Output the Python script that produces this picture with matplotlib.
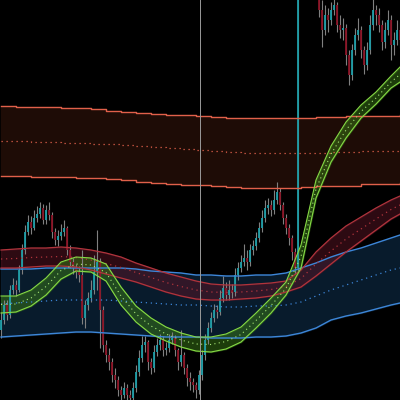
import numpy as np
import matplotlib
matplotlib.use("Agg")
import matplotlib.pyplot as plt

# candles (price units), open = previous close
first_open = 70
closes = [80, 95, 85, 110, 115, 110, 130, 150, 168, 178,
          172, 182, 186, 192, 180, 190, 185, 168, 160, 164,
          168, 172, 150, 138, 132, 128, 125, 82, 95, 102,
          110, 128, 138, 90, 55, 45, 38, 25, 20, 10,
          5, 12, 5, 2, 12, 28, 42, 55, 58, 38,
          32, 48, 55, 60, 50, 52, 60, 62, 50, 38,
          45, 32, 22, 18, 15, 10, 25, 45, 60, 72,
          82, 90, 88, 102, 112, 105, 110, 108, 125, 132,
          138, 142, 138, 150, 154, 162, 172, 182, 192, 195,
          190, 200, 208, 195, 182, 172, 162, 148, 132, 460,
          480, 500, 490, 470, 440, 410, 390, 370, 385, 380,
          390, 395, 375, 370, 372, 345, 325, 350, 365, 370,
          350, 335, 350, 375, 390, 385, 375, 358, 370, 380,
          355, 360, 370, 360]
highs = [88, 100, 100, 115, 122, 120, 135, 156, 175, 185,
         184, 190, 194, 198, 196, 195, 198, 188, 172, 170,
         176, 180, 174, 155, 142, 136, 134, 150, 100, 108,
         120, 145, 170, 142, 94, 60, 52, 42, 32, 24,
         14, 18, 16, 10, 18, 35, 50, 64, 64, 60,
         42, 55, 62, 66, 64, 58, 66, 68, 65, 52,
         70, 48, 36, 28, 22, 18, 30, 50, 66, 78,
         88, 96, 95, 110, 124, 118, 120, 116, 132, 138,
         145, 156, 150, 156, 160, 168, 178, 190, 200, 202,
         200, 210, 218, 212, 198, 186, 176, 165, 152, 470,
         490, 510, 512, 495, 475, 445, 415, 400, 395, 392,
         398, 405, 398, 385, 382, 376, 350, 356, 372, 382,
         374, 354, 358, 385, 402, 395, 392, 380, 378, 390,
         385, 368, 380, 378]
lows = [62, 76, 80, 82, 106, 104, 108, 126, 146, 165,
        166, 170, 178, 182, 176, 176, 180, 162, 155, 154,
        160, 164, 145, 132, 126, 122, 118, 76, 72, 90,
        98, 106, 110, 52, 48, 38, 30, 18, 12, 4,
        0, 2, 0, -4, 0, 8, 24, 38, 48, 30,
        26, 28, 44, 50, 44, 45, 48, 56, 44, 30,
        34, 26, 14, 10, 8, 2, 6, 20, 40, 56,
        68, 78, 82, 85, 98, 100, 100, 102, 104, 120,
        128, 134, 130, 134, 145, 150, 158, 168, 178, 186,
        184, 186, 196, 190, 176, 166, 155, 140, 126, 128,
        450, 470, 480, 460, 430, 402, 383, 353, 365, 368,
        375, 385, 368, 362, 360, 335, 315, 320, 345, 360,
        342, 326, 330, 346, 370, 375, 368, 350, 352, 365,
        340, 345, 355, 352]

# band knots (bar index)
knots = [0, 5, 10, 15, 20, 25, 30, 35, 40, 45, 50, 55, 60, 65,
         70, 75, 80, 85, 90, 95, 100, 105, 110, 115, 120, 125, 130, 133]

brown_up = [294, 293, 293, 293, 292, 292, 291, 289.3, 288.3, 287.3, 286.3, 285.3, 284.7, 283.7,
            283, 282.5, 282, 282, 282, 282, 282, 282.7, 282.7, 283.7, 283.7, 283.7, 283.7, 285]
brown_mid = [259, 259, 257.7, 257.7, 256.7, 256.7, 255.7, 255.7, 254.7, 253.7, 252.7, 251.7, 250.7, 249.7,
             249, 248, 247.5, 247, 246.7, 246.7, 246.7, 246.7, 248.3, 248.3, 249.3, 249.3, 249.3, 249.3]
brown_lo = [224, 224, 222.7, 222.7, 222.7, 221.7, 221.7, 220.7, 219.7, 218.3, 217.3, 216, 215, 215,
            214, 213, 212.5, 212, 212, 212, 212.7, 214.3, 214.3, 214.3, 215.7, 215.7, 215.7, 217]

red_up = [150, 151, 152, 152, 153, 152, 150, 147, 143, 137, 132, 127, 123, 119,
          116, 115, 115, 116, 117, 119, 130, 148, 162, 174, 183, 192, 200, 204]
red_lo = [132, 132, 133, 134, 134, 133, 130, 126, 122, 118, 113, 108, 104, 101,
          100, 100, 101, 102, 104, 108, 113, 124, 136, 148, 159, 170, 181, 186]

blue_up = [131, 131, 131, 132, 132, 132, 132, 132, 132, 131, 129, 128, 127, 125,
           125, 124, 124, 125, 125, 127, 132, 137, 143, 148, 152, 157, 162, 165]
blue_mid = [96, 97, 98, 99, 100, 100, 100, 100, 99, 98, 97, 96, 95, 95,
            94, 93, 93, 94, 94, 95, 98, 104, 110, 115, 120, 125, 130, 132]
blue_lo = [63, 64, 65, 66, 67, 68, 68, 67, 66, 65, 64, 63, 63, 63,
           62, 62, 62, 63, 63, 64, 67, 72, 80, 84, 87, 91, 95, 97]

green_up = [104, 104, 110, 122, 138, 143, 142, 136, 113, 94, 82, 73, 67, 63,
            63, 66, 73, 87, 102, 118, 155, 220, 254, 278, 295, 308, 324, 333]
green_lo = [87, 88, 94, 105, 121, 129, 128, 119, 95, 78, 66, 59, 53, 49,
            48, 51, 58, 72, 87, 105, 132, 202, 238, 262, 282, 296, 312, 318]

marker_bar = 66.33

closes = np.array(closes, float)
opens = np.concatenate([[first_open], closes[:-1]])
highs = np.array(highs, float)
lows = np.array(lows, float)
bars = np.arange(len(closes))

fig = plt.figure(figsize=(4, 4), dpi=100)
fig.patch.set_facecolor('black')
ax = fig.add_axes([0, 0, 1, 1])
ax.set_facecolor('black')

# fills
ax.fill_between(knots, brown_lo, brown_up, step='post', color='#1e0c06', zorder=1)
ax.fill_between(knots, blue_lo, blue_up, color='#0a2034', alpha=0.85, zorder=1)
ax.fill_between(knots, red_lo, red_up, color='#5a1525', alpha=0.5, zorder=2)
ax.fill_between(knots, green_lo, green_up, color='#3a7a16', alpha=0.5, zorder=2)

# candles
up = closes >= opens
ax.vlines(bars, lows, highs, color='#808080', lw=0.8, zorder=3)
ax.vlines(bars[up], opens[up], closes[up], color='#1d9ea8', lw=1.3, zorder=4)
ax.vlines(bars[~up], closes[~up], opens[~up], color='#8a1224', lw=1.3, zorder=4)

# band lines
for y in (brown_up, brown_lo):
    ax.step(knots, y, where='post', color='#e0604a', lw=1, zorder=5)
ax.step(knots, brown_mid, where='post', color='#e0604a', lw=0.9, ls=(0, (1, 3)), zorder=5)

for y in (blue_up, blue_lo):
    ax.plot(knots, y, color='#3d86d8', lw=1, zorder=5)
ax.plot(knots, blue_mid, color='#3d86d8', lw=0.9, ls=(0, (1, 3)), zorder=5)

red_mid = (np.array(red_up) + np.array(red_lo)) / 2
for y in (red_up, red_lo):
    ax.plot(knots, y, color='#b0343c', lw=0.9, zorder=5)
ax.plot(knots, red_mid, color='#b0343c', lw=0.9, ls=(0, (1, 3)), zorder=5)

green_mid = (np.array(green_up) + np.array(green_lo)) / 2
for y in (green_up, green_lo):
    ax.plot(knots, y, color='#86d846', lw=0.8, zorder=6)
ax.plot(knots, green_mid, color='#a8e878', lw=0.8, ls=(0, (1, 3)), zorder=6)

ax.axvline(marker_bar, color='#9a9a9a', lw=0.7, zorder=7)

ax.set_xlim(-1 / 3, 133)
ax.set_ylim(0, 400)
ax.axis('off')

fig.savefig('out.png', dpi=100, facecolor='black')
